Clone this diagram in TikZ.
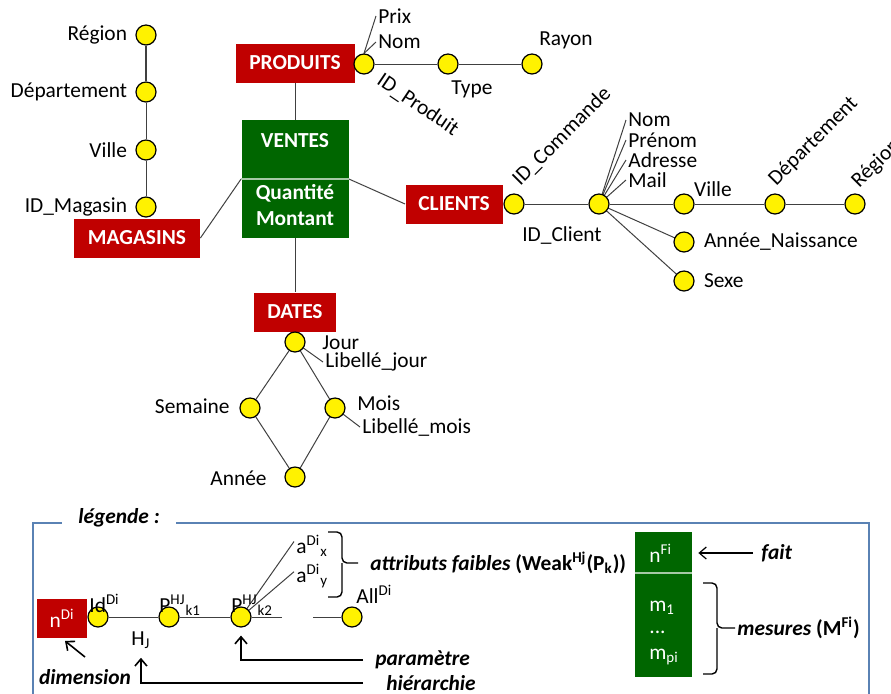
\documentclass[tikz,border=0pt]{standalone}
\usepackage{fontspec}
\setmainfont{Carlito}
\usetikzlibrary{arrows.meta, positioning, backgrounds}

\definecolor{dimred}{HTML}{C00000}
\definecolor{factgreen}{HTML}{006600}
\definecolor{framebl}{HTML}{5A82B4}
\definecolor{linegray}{HTML}{404040}

\newcommand{\lsize}{\fontsize{10.7}{12.8}\selectfont}

\begin{document}
\begin{tikzpicture}[
  x=0.5pt, y=-0.5pt,
  every node/.style={font=\lsize},
  dim/.style={fill=dimred, text=white, font=\lsize\bfseries, minimum height=19.5pt, inner sep=1pt},
  fact/.style={fill=factgreen, inner sep=0pt},
  lev/.style={circle, draw=black, fill=yellow, line width=0.6pt, minimum size=10pt, inner sep=0pt},
  lbl/.style={inner sep=1pt},
  rot/.style={inner sep=0pt, rotate=#1},
  wire/.style={draw=linegray, line width=0.5pt},
  arr/.style={-{Straight Barb[length=3.5pt,width=6pt]}, line width=0.8pt},
  key/.style={font=\lsize\bfseries\itshape, inner sep=1pt},
  brk/.style={line width=0.7pt, rounded corners=2.5pt}
]
\useasboundingbox (0,0) rectangle (891,693);

% fact table
\node[fact, minimum width=53.5pt, minimum height=59pt] (ventes) at (295,179) {};
\draw[white!65!factgreen, line width=0.6pt] (ventes.west) -- (ventes.east);
\node[lbl, text=white, font=\lsize\bfseries] (ventesname) at (295,141) {VENTES};
\node[lbl, text=white, font=\lsize\bfseries, align=center] (ventesmes) at (295,205) {Quantité\\Montant};

% dimensions
\node[dim, minimum width=63pt]   (magasins) at (137,238) {MAGASINS};
\node[dim, minimum width=59.5pt] (produits) at (295,63)  {PRODUITS};
\node[dim, minimum width=48.5pt] (clients)  at (454,204) {CLIENTS};
\node[dim, minimum width=41pt]   (dates)    at (295,312) {DATES};

% magasins
\node[lev] (idmag)   at (146,207) {};
\node[lev] (villeM)  at (146,150) {};
\node[lev] (deptM)   at (146,92)  {};
\node[lev] (regionM) at (146,35)  {};
\node[lbl, left=3pt of idmag]   (idmaglbl)   {ID\_Magasin};
\node[lbl, left=3pt of villeM]  (villeMlbl)  {Ville};
\node[lbl, left=3pt of deptM]   (deptMlbl)   {Département};
\node[lbl, left=3pt of regionM] (regionMlbl) {Région};

% produits
\node[lev] (idprod) at (364,64) {};
\node[lev] (typeP)  at (448,64) {};
\node[lev] (rayon)  at (532,64) {};
\node[lbl, anchor=west] (prix)  at (376,16) {Prix};
\node[lbl, anchor=west] (nomP)  at (376,42) {Nom};
\node[rot=-34, anchor=north west] (idprodlbl) at (384,71) {ID\_Produit};
\node[lbl] (typelbl)  at (472,89) {Type};
\node[lbl] (rayonlbl) at (566,40) {Rayon};

% clients
\node[lev] (idcmd)   at (514,204) {};
\node[lev] (idcli)   at (599,204) {};
\node[lev] (villeC)  at (684,204) {};
\node[lev] (deptC)   at (775,204) {};
\node[lev] (regionC) at (855,204) {};
\node[lev] (annee)   at (684,242) {};
\node[lev] (sexe)    at (684,281) {};
\node[rot=45, anchor=base west] (idcmdlbl) at (520,187) {ID\_Commande};
\node[lbl] (idclilbl) at (562,235) {ID\_Client};
\node[lbl, anchor=west] (nomC)    at (626,120) {Nom};
\node[lbl, anchor=west] (prenom)  at (626,140) {Prénom};
\node[lbl, anchor=west] (adresse) at (626,160) {Adresse};
\node[lbl, anchor=west] (mail)    at (626,180) {Mail};
\node[lbl] (villeClbl) at (713,189) {Ville};
\node[rot=45, anchor=base west] (deptClbl)   at (776,187) {Département};
\node[rot=45, anchor=base west] (regionClbl) at (859,189) {Région};
\node[lbl, right=3.5pt of annee] (anneelbl) {Année\_Naissance};
\node[lbl, right=3.5pt of sexe]  (sexelbl)  {Sexe};

% dates
\node[lev] (jour)    at (295,342) {};
\node[lev] (semaine) at (250,408) {};
\node[lev] (mois)    at (335,408) {};
\node[lev] (anneeD)  at (295,477) {};
\node[lbl, anchor=west] (jourlbl)    at (320,343) {Jour};
\node[lbl, anchor=west] (libjour)    at (323,362) {Libellé\_jour};
\node[lbl, anchor=west] (moislbl)    at (355,403) {Mois};
\node[lbl, anchor=west] (libmois)    at (360,427) {Libellé\_mois};
\node[lbl, anchor=east] (semainelbl) at (232,406) {Semaine};
\node[lbl, anchor=east] (anneeDlbl)  at (269,478) {Année};

% legend
\node[key, inner xsep=8pt] (legtitle) at (119,518) {légende :};
\draw[framebl, line width=0.7pt] (legtitle.west |- 0,523) -- (33,523) -- (33,700);
\draw[framebl, line width=0.7pt] (legtitle.east |- 0,523) -- (869,523) -- (869,700);

\node[dim, font=\lsize, minimum width=25pt] (ndi) at (62,618) {n\textsuperscript{Di}};
\node[lev] (idd)  at (98,617)  {};
\node[lev] (pk1)  at (169,617) {};
\node[lev] (pk2)  at (241,617) {};
\node[lev] (alld) at (352,617) {};
\coordinate (gapL) at (282,617);
\coordinate (gapR) at (313,617);
\node[lbl, anchor=base west] (iddlbl)  at (87,612)  {Id\textsuperscript{Di}};
\node[lbl, anchor=base west] (pk1lbl)  at (157,612) {P\textsuperscript{HJ}\textsubscript{k1}};
\node[lbl, anchor=base west] (pk2lbl)  at (229,612) {P\textsuperscript{HJ}\textsubscript{k2}};
\node[lbl, anchor=base west] (alldlbl) at (354,603) {All\textsuperscript{Di}};
\node[lbl, anchor=base west] (hj)      at (129,645) {H\textsubscript{J}};
\node[lbl, anchor=base west] (ax)      at (294,553) {a\textsuperscript{Di}\textsubscript{x}};
\node[lbl, anchor=base west] (ay)      at (294,582) {a\textsuperscript{Di}\textsubscript{y}};
\node[lbl, anchor=west] (attrlbl) at (368,563)
  {\textbf{\textit{attributs faibles} (Weak\textsuperscript{Hj}(P\textsubscript{k}))}};
\node[key] (dimlbl) at (85,677) {dimension};
\node[key, anchor=west] (param) at (373,660) {paramètre};
\node[key, anchor=west] (hier)  at (384,683) {hiérarchie};

\node[fact, minimum width=28.5pt, minimum height=72.5pt] (factleg) at (663.5,604.5) {};
\draw[white!65!factgreen, line width=0.6pt] (factleg.west |- 0,573) -- (factleg.east |- 0,573);
\node[lbl, text=white, anchor=west] (nfi)  at (647,553) {n\textsuperscript{Fi}};
\node[lbl, text=white, anchor=west] (m1)   at (647,608) {m\textsubscript{1}};
\node[lbl, text=white, anchor=west] (mdot) at (647,632) {...};
\node[lbl, text=white, anchor=west] (mpi)  at (647,657) {m\textsubscript{pi}};
\node[key, anchor=west] (fait) at (759,553) {fait};
\node[lbl, anchor=west] (meslbl) at (735,628) {\textbf{\textit{mesures} (M\textsuperscript{Fi})}};

% braces
\draw[brk] (328,532) -- (342,532) -- (342,563) -- (358,563);
\draw[brk] (342,563) -- (342,597) -- (328,597);
\draw[brk] (703,583) -- (717,583) -- (717,628) -- (735,628);
\draw[brk] (717,628) -- (717,674) -- (703,674);

% arrows
\draw[arr] ([yshift=5pt]dimlbl.north) -- ([xshift=1.5pt,yshift=-1.5pt]ndi.south);
\draw[arr] ([xshift=-5pt]param.west) -| ([yshift=-4pt]pk2.south);
\draw[arr] ([xshift=-10.5pt]hier.west) -| ([yshift=-3.5pt]hj.south);
\draw[arr, line width=0.6pt] ([xshift=-3pt]fait.west) -- ([xshift=3pt]factleg.east |- fait.west);

\begin{scope}[on background layer]
  \draw[wire] (produits) -- (ventes);
  \draw[wire] (ventes) -- (dates);
  \draw[wire] (magasins.east) -- (ventes.west);
  \draw[wire] (ventes.east) -- (clients.west);
  \draw[wire, line width=1pt] (regionM) -- (deptM);
  \draw[wire] (deptM) -- (villeM) -- (idmag);
  \draw[wire] (idprod) -- (typeP) -- (rayon);
  \draw[wire] (idprod.north) -- (prix.west);
  \draw[wire] (idprod.north) -- (nomP.west);
  \draw[wire] (idcmd) -- (idcli) -- (villeC) -- (deptC) -- (regionC);
  \draw[wire] (idcli.center) -- (annee.center);
  \draw[wire] (idcli.center) -- (sexe.center);
  \foreach \attr in {nomC, prenom, adresse, mail}
    \draw[wire] (idcli.center) -- (\attr.west);
  \draw[wire] (jour.center) -- (semaine.center) -- (anneeD.center) -- (mois.center) -- (jour.center);
  \draw[wire] (jour.center) -- (libjour.west);
  \draw[wire] (mois.center) -- (libmois.west);
  \draw[wire] (idd) -- (pk1) -- (pk2) -- (gapL);
  \draw[wire] (gapR) -- (alld);
  \draw[wire] (pk2.center) -- ([yshift=2pt]ax.west);
  \draw[wire] (pk2.center) -- ([yshift=2pt]ay.west);
\end{scope}
\end{tikzpicture}
\end{document}
